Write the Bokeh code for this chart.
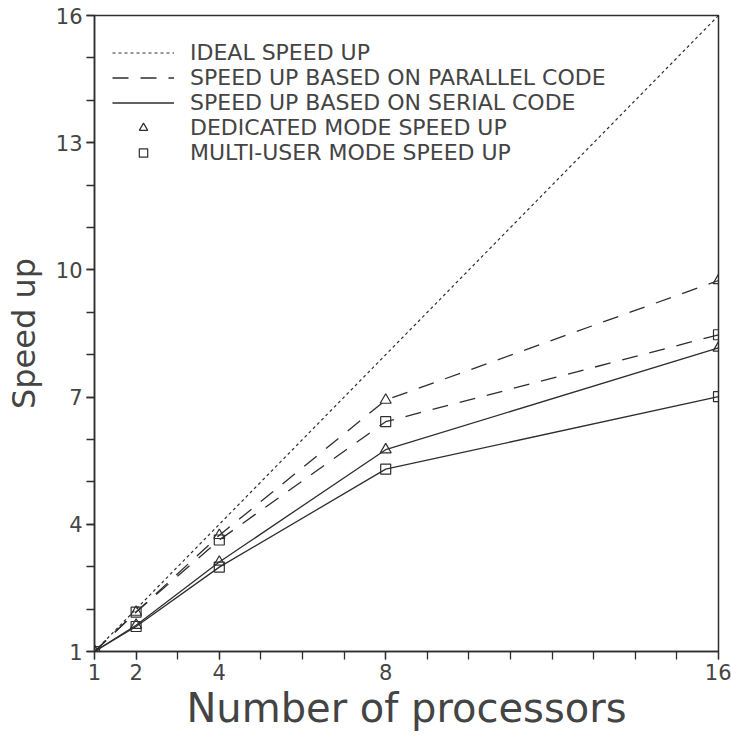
from bokeh.plotting import figure
from bokeh.models import Range1d, FixedTicker, Legend, LegendItem
from bokeh.embed import file_html
from bokeh.resources import INLINE

# ---- data ----
procs = [1, 2, 4, 8, 16]
ideal = [1, 2, 4, 8, 16]
ded_parallel = [1, 1.93, 3.74, 6.93, 9.75]
multi_parallel = [1, 1.93, 3.63, 6.42, 8.47]
ded_serial = [1, 1.62, 3.11, 5.76, 8.16]
multi_serial = [1, 1.59, 2.99, 5.30, 7.01]
x_ticks = [1, 2, 4, 8, 16]
y_ticks = [1, 4, 7, 10, 13, 16]
minor_ticks = list(range(1, 17))
legend_labels = [
    "IDEAL SPEED UP",
    "SPEED UP BASED ON PARALLEL CODE",
    "SPEED UP BASED ON SERIAL CODE",
    "DEDICATED MODE SPEED UP",
    "MULTI-USER MODE SPEED UP",
]

INK = "#2e2e2e"
TXT = "#444444"
FONT = "DejaVu Sans"

p = figure(width=731, height=738, x_range=Range1d(1, 16), y_range=Range1d(1, 16),
           output_backend="svg", toolbar_location=None,
           min_border_left=94, min_border_right=13, min_border_top=15, min_border_bottom=87,
           x_axis_label="Number of processors", y_axis_label="Speed up")

p.grid.visible = False
p.outline_line_color = INK
p.outline_line_width = 1.5
p.outline_line_alpha = 1.0
p.background_fill_color = "white"
p.border_fill_color = "white"

p.xaxis.ticker = FixedTicker(ticks=x_ticks, minor_ticks=minor_ticks)
p.yaxis.ticker = FixedTicker(ticks=y_ticks, minor_ticks=minor_ticks)
for ax in (p.xaxis, p.yaxis):
    ax.axis_line_color = INK
    ax.axis_line_width = 1.5
    ax.major_tick_line_color = INK
    ax.minor_tick_line_color = INK
    ax.major_tick_line_width = 1.3
    ax.minor_tick_line_width = 1.3
    ax.major_tick_in = 0
    ax.minor_tick_in = 0
    ax.major_tick_out = 8
    ax.minor_tick_out = 8
    ax.major_label_text_font = FONT
    ax.major_label_text_font_size = "21px"
    ax.major_label_text_color = TXT
    ax.major_label_standoff = 4
    ax.axis_label_text_font = FONT
    ax.axis_label_text_font_style = "normal"
    ax.axis_label_text_color = TXT
p.xaxis.axis_label_text_font_size = "40px"
p.yaxis.axis_label_text_font_size = "32px"
p.xaxis.axis_label_standoff = 2
p.yaxis.axis_label_standoff = 10

# ---- lines ----
r_ideal = p.line(procs, ideal, line_color=INK, line_width=1.2, line_dash="3 3")
r_dp = p.line(procs, ded_parallel, line_color=INK, line_width=1.3, line_dash="16 12")
r_mp = p.line(procs, multi_parallel, line_color=INK, line_width=1.3, line_dash="16 12")
r_ds = p.line(procs, ded_serial, line_color=INK, line_width=1.3)
r_ms = p.line(procs, multi_serial, line_color=INK, line_width=1.3)

# ---- markers ----
m_dp = p.scatter(procs, ded_parallel, marker="triangle", size=11, fill_color=None,
                 line_color=INK, line_width=1.2)
m_ds = p.scatter(procs, ded_serial, marker="triangle", size=11, fill_color=None,
                 line_color=INK, line_width=1.2)
m_mp = p.scatter(procs, multi_parallel, marker="square", size=10, fill_color=None,
                 line_color=INK, line_width=1.2)
m_ms = p.scatter(procs, multi_serial, marker="square", size=10, fill_color=None,
                 line_color=INK, line_width=1.2)

legend = Legend(items=[
    LegendItem(label=legend_labels[0], renderers=[r_ideal]),
    LegendItem(label=legend_labels[1], renderers=[r_dp]),
    LegendItem(label=legend_labels[2], renderers=[r_ds]),
    LegendItem(label=legend_labels[3], renderers=[m_dp]),
    LegendItem(label=legend_labels[4], renderers=[m_mp]),
], location=(18, 486))
legend.border_line_alpha = 0
legend.background_fill_alpha = 0
legend.padding = 0
legend.margin = 0
legend.spacing = 0
legend.glyph_width = 62
legend.glyph_height = 21
legend.label_height = 21
legend.label_standoff = 16
legend.label_text_font = FONT
legend.label_text_font_size = "22px"
legend.label_text_color = TXT
p.add_layout(legend)

open("out.html", "w").write(file_html(p, INLINE))
